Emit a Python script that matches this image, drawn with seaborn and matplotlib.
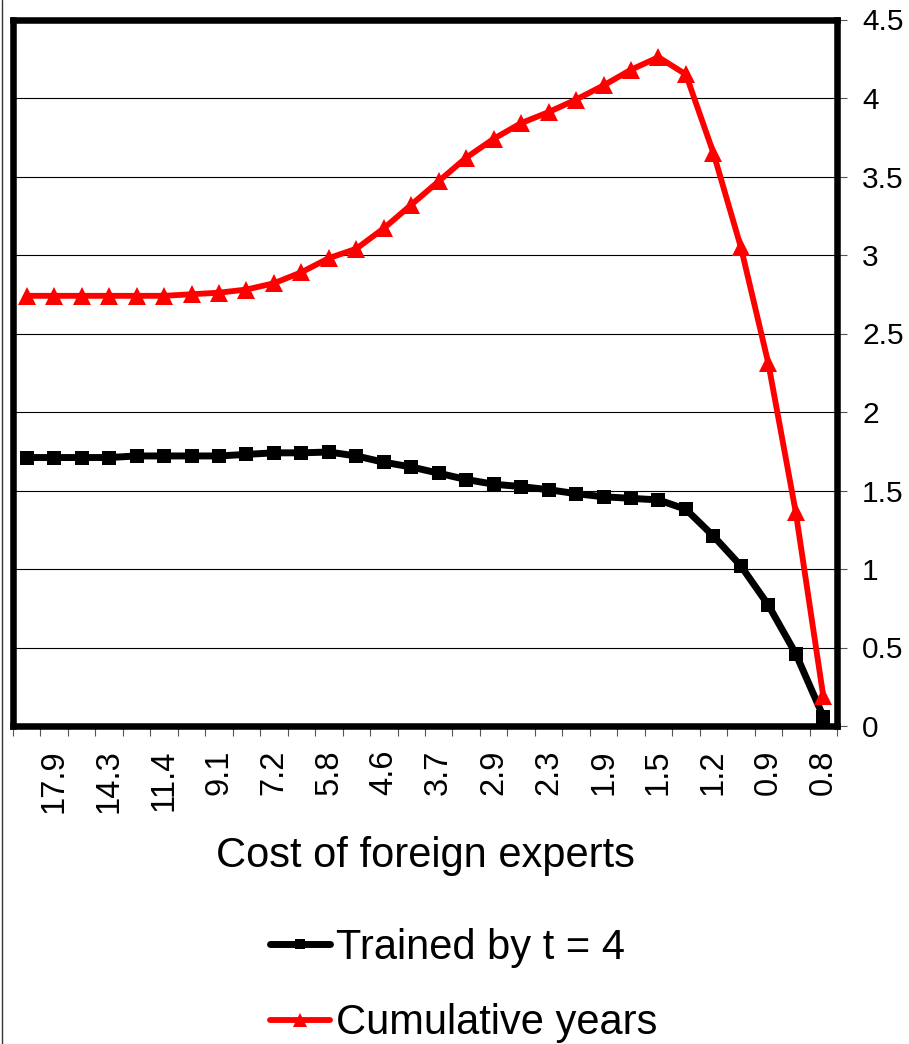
import matplotlib
matplotlib.use('Agg')
import matplotlib.pyplot as plt
from matplotlib.lines import Line2D
import seaborn as sns
import numpy as np
import pandas as pd

# ---- data ----
cost_labels = ['17.9', '14.3', '11.4', '9.1', '7.2', '5.8', '4.6', '3.7',
               '2.9', '2.3', '1.9', '1.5', '1.2', '0.9', '0.8']
trained_by_t4 = [1.71, 1.71, 1.71, 1.71, 1.72, 1.72, 1.72, 1.72, 1.73, 1.74,
                 1.74, 1.745, 1.72, 1.68, 1.65, 1.61, 1.57, 1.54, 1.525, 1.505,
                 1.48, 1.46, 1.45, 1.44, 1.38, 1.21, 1.02, 0.77, 0.46, 0.06]
cumulative_years = [2.74, 2.74, 2.74, 2.74, 2.74, 2.74, 2.75, 2.76, 2.78, 2.82,
                    2.89, 2.98, 3.04, 3.17, 3.32, 3.47, 3.62, 3.74, 3.84, 3.91,
                    3.99, 4.08, 4.18, 4.26, 4.15, 3.65, 3.05, 2.31, 1.36, 0.19]
y_ticks = [0, 0.5, 1, 1.5, 2, 2.5, 3, 3.5, 4, 4.5]
y_tick_labels = ['0', '0.5', '1', '1.5', '2', '2.5', '3', '3.5', '4', '4.5']

idx = np.arange(len(trained_by_t4))
df = pd.DataFrame({'idx': idx, 'trained': trained_by_t4, 'cumulative': cumulative_years})

sns.set_style('white')
plt.rcParams['font.family'] = ['Liberation Sans', 'DejaVu Sans']
plt.rcParams['text.color'] = 'black'
plt.rcParams['axes.labelcolor'] = 'black'
plt.rcParams['xtick.color'] = 'black'
plt.rcParams['ytick.color'] = 'black'

W, H = 909, 1044
fig = plt.figure(figsize=(W / 100, H / 100), dpi=100)
ax = fig.add_axes([13 / W, (H - 726) / H, (837 - 13) / W, (726 - 19.5) / H])

sns.lineplot(data=df, x='idx', y='trained', ax=ax, color='black', lw=5,
             marker='s', markersize=10.5, markeredgewidth=0, label='Trained by t = 4')
sns.lineplot(data=df, x='idx', y='cumulative', ax=ax, color='#FF0000', lw=4.2,
             marker='^', markersize=12.5, markeredgewidth=0, label='Cumulative years')

ax.set_xlim(-0.5, len(idx) - 0.5)
ax.set_ylim(0, 4.5)

# y axis on right
ax.set_yticks(y_ticks)
ax.set_yticklabels(y_tick_labels)
ax.yaxis.tick_right()
ax.tick_params(axis='y', which='major', right=True, left=False, labelright=True,
               labelleft=False, length=7, width=0.8, color='#555555', pad=11,
               labelsize=21.5, labelcolor='black')
ax.set_ylabel('')

# x axis: tick marks at category boundaries, labels at every other category
ax.set_xticks(np.arange(-0.5, len(idx), 1.0))
ax.set_xticklabels([])
ax.set_xticks(idx[1::2], minor=True)
ax.set_xticklabels(cost_labels, minor=True, rotation=90)
ax.tick_params(axis='x', which='major', bottom=True, length=7, width=0.8,
               color='#555555')
ax.tick_params(axis='x', which='minor', bottom=True, length=0, pad=17,
               labelsize=23.5, labelcolor='black')
ax.set_xlabel('Cost of foreign experts', fontsize=30, labelpad=16, color='black')

ax.yaxis.grid(True, color='black', lw=0.8)
ax.xaxis.grid(False)
ax.set_axisbelow(True)

for s in ax.spines.values():
    s.set_visible(True)
    s.set_color('black')
    s.set_linewidth(4.7)

ax.get_legend().remove()
handles, labels = ax.get_legend_handles_labels()
leg = fig.legend(handles, labels, loc='center', bbox_to_anchor=(0.51, 0.056),
                 frameon=False, fontsize=30, handlelength=1.45, handletextpad=0.15,
                 labelspacing=0.85, markerscale=0.75, labelcolor='black')

fig.add_artist(Line2D([2 / W, 2 / W], [0, 1], transform=fig.transFigure,
                      color='#333333', lw=1.0))

fig.savefig('out.png', dpi=100)
